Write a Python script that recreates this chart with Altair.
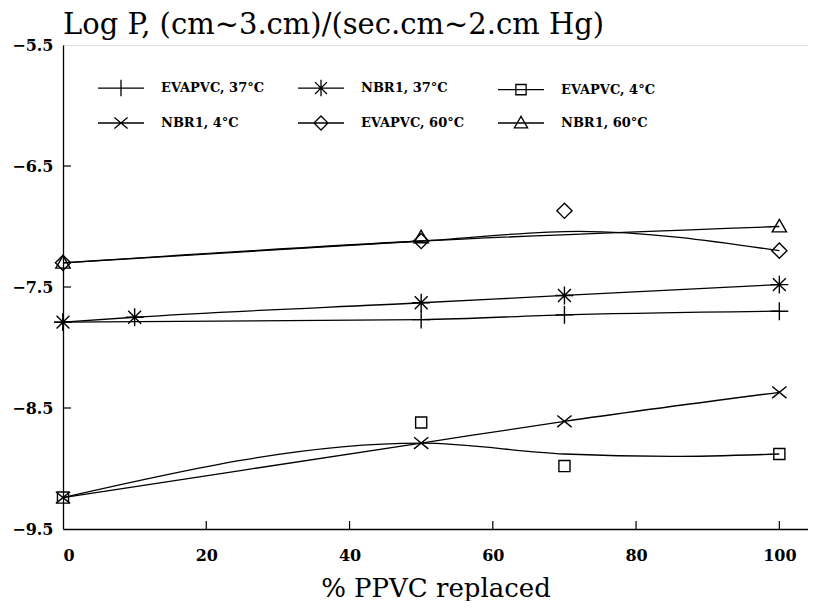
import altair as alt
import pandas as pd

# ---- data ----
series = ["EVAPVC, 37°C", "NBR1, 37°C", "EVAPVC, 4°C",
          "NBR1, 4°C", "EVAPVC, 60°C", "NBR1, 60°C"]

# measured points (markers)
evapvc37_x = [0, 50, 70, 100]
evapvc37_y = [-7.79, -7.77, -7.73, -7.70]
nbr37_x = [0, 10, 50, 70, 100]
nbr37_y = [-7.79, -7.75, -7.63, -7.57, -7.48]
evapvc4_x = [0, 50, 70, 100]
evapvc4_y = [-9.24, -8.62, -8.98, -8.88]
nbr4_x = [0, 50, 70, 100]
nbr4_y = [-9.24, -8.79, -8.61, -8.37]
evapvc60_x = [0, 50, 70, 100]
evapvc60_y = [-7.30, -7.12, -6.87, -7.20]
nbr60_x = [0, 50, 100]
nbr60_y = [-7.30, -7.09, -7.00]

# fitted curves drawn through the data
fit_evapvc37_x = [0, 50, 70, 100]
fit_evapvc37_y = [-7.79, -7.77, -7.73, -7.70]
fit_nbr37_x = [0, 10, 50, 70, 100]
fit_nbr37_y = [-7.79, -7.75, -7.63, -7.57, -7.48]
fit_evapvc4_x = [0, 50, 70, 85, 100]
fit_evapvc4_y = [-9.24, -8.79, -8.88, -8.90, -8.88]
fit_nbr4_x = [0, 50, 70, 100]
fit_nbr4_y = [-9.24, -8.79, -8.61, -8.37]
fit_evapvc60_x = [0, 50, 72, 100]
fit_evapvc60_y = [-7.30, -7.12, -7.04, -7.20]
fit_nbr60_x = [0, 50, 100]
fit_nbr60_y = [-7.30, -7.12, -7.00]

x_ticks = [0, 20, 40, 60, 80, 100]
y_ticks = [-5.5, -6.5, -7.5, -8.5, -9.5]
x_inner_ticks = [20, 40, 60, 80, 100]
y_inner_ticks = [-6.5, -7.5, -8.5]

# ---- build tables ----
pts_src = [(evapvc37_x, evapvc37_y), (nbr37_x, nbr37_y), (evapvc4_x, evapvc4_y),
           (nbr4_x, nbr4_y), (evapvc60_x, evapvc60_y), (nbr60_x, nbr60_y)]
fit_src = [(fit_evapvc37_x, fit_evapvc37_y), (fit_nbr37_x, fit_nbr37_y),
           (fit_evapvc4_x, fit_evapvc4_y), (fit_nbr4_x, fit_nbr4_y),
           (fit_evapvc60_x, fit_evapvc60_y), (fit_nbr60_x, fit_nbr60_y)]

pts = pd.DataFrame([{"s": s, "x": x, "y": y}
                    for s, (xs, ys) in zip(series, pts_src) for x, y in zip(xs, ys)])
fit = pd.DataFrame([{"s": s, "x": x, "y": y}
                    for s, (xs, ys) in zip(series, fit_src) for x, y in zip(xs, ys)])

markers = {
    "plus": "M-1,0H1M0,-1V1",
    "star": "M-1,0H1M0,-1V1M-0.72,-0.72L0.72,0.72M-0.72,0.72L0.72,-0.72",
    "square": "M-0.62,-0.62H0.62V0.62H-0.62Z",
    "cross": "M-0.8,-0.65L0.8,0.65M-0.8,0.65L0.8,-0.65",
    "diamond": "M0,-0.85L0.85,0L0,0.85L-0.85,0Z",
    "triangle": "M0,-0.8L0.8,0.6H-0.8Z",
}
order = ["plus", "star", "square", "cross", "diamond", "triangle"]


def scaled(path, k):
    out = []
    num = ""
    for ch in path:
        if ch in "-.0123456789":
            num += ch
        else:
            if num:
                out.append(str(round(float(num) * k, 3)))
                num = ""
            out.append(ch)
    if num:
        out.append(str(round(float(num) * k, 3)))
    return "".join(out)


point_range = [markers[m] for m in order]
legend_range = ["M-1,0H1" + scaled(markers[m], 0.36) for m in order]

W, H = 745, 484
FONT = "DejaVu Serif"

xscale = alt.Scale(domain=[0, 104], nice=False, zero=False)
yscale = alt.Scale(domain=[-9.5, -5.5], nice=False, zero=False)

xaxis = alt.Axis(values=x_ticks, format="d", title="% PPVC replaced", grid=False,
                 ticks=False, labelPadding=18, labelFont=FONT, labelFontWeight="bold",
                 labelFontSize=16, labelColor="black", titleFont=FONT,
                 titleFontWeight="normal", titleFontSize=26, titleColor="black",
                 titlePadding=12, domainColor="black", domainWidth=1.3)
yaxis = alt.Axis(values=y_ticks, format=".1f", title=None, grid=False, ticks=False,
                 labelPadding=10, labelFont=FONT, labelFontWeight="bold",
                 labelFontSize=16, labelColor="black", domainColor="black",
                 domainWidth=1.3)

lines = alt.Chart(fit).mark_line(interpolate="monotone", color="black",
                                 strokeWidth=1.3).encode(
    x=alt.X("x:Q", scale=xscale, axis=xaxis),
    y=alt.Y("y:Q", scale=yscale, axis=yaxis),
    detail="s:N",
)

points = alt.Chart(pts).mark_point(filled=False, color="black", strokeWidth=1.4,
                                   size=320, opacity=1).encode(
    x=alt.X("x:Q", scale=xscale),
    y=alt.Y("y:Q", scale=yscale),
    shape=alt.Shape("s:N", scale=alt.Scale(domain=series, range=point_range),
                    legend=None),
)

legend_layer = alt.Chart(pts).mark_point(filled=False, color="black",
                                         strokeWidth=1.3, opacity=1).encode(
    x=alt.X("x:Q", scale=xscale),
    y=alt.Y("y:Q", scale=yscale),
    shape=alt.Shape("s:N", sort=series,
                    scale=alt.Scale(domain=series, range=legend_range),
                    legend=alt.Legend(title=None, orient="none", legendX=34,
                                      legendY=19, columns=3, columnPadding=30,
                                      direction="horizontal",
                                      rowPadding=-17, symbolSize=2116,
                                      values=series,
                                      symbolStrokeWidth=1.3, symbolStrokeColor="black",
                                      symbolFillColor="transparent", labelOffset=16,
                                      labelFont=FONT, labelFontWeight="bold",
                                      labelFontSize=13, labelColor="black",
                                      symbolOpacity=1)),
).transform_filter("false")

xt = pd.DataFrame({"t": x_inner_ticks})
yt = pd.DataFrame({"t": y_inner_ticks})
xtick_layer = alt.Chart(xt).mark_rule(color="black", strokeWidth=1.2).encode(
    x=alt.X("t:Q", scale=xscale), y=alt.value(H), y2=alt.value(H - 8))
ytick_layer = alt.Chart(yt).mark_rule(color="black", strokeWidth=1.2).encode(
    y=alt.Y("t:Q", scale=yscale), x=alt.value(0), x2=alt.value(8))

chart = alt.layer(lines, points, legend_layer, xtick_layer, ytick_layer).resolve_scale(
    shape="independent"
).properties(
    width=W, height=H,
    padding={"left": 3, "top": 3, "right": 0, "bottom": 0},
    title=alt.TitleParams("Log P, (cm~3.cm)/(sec.cm~2.cm Hg)", anchor="start",
                          frame="group", font=FONT, fontSize=29,
                          fontWeight="normal", color="black", offset=-3),
).configure_view(stroke="black", strokeWidth=1.3).configure(background="white")

chart.save("out.html", embed_options={"renderer": "svg", "actions": False})
